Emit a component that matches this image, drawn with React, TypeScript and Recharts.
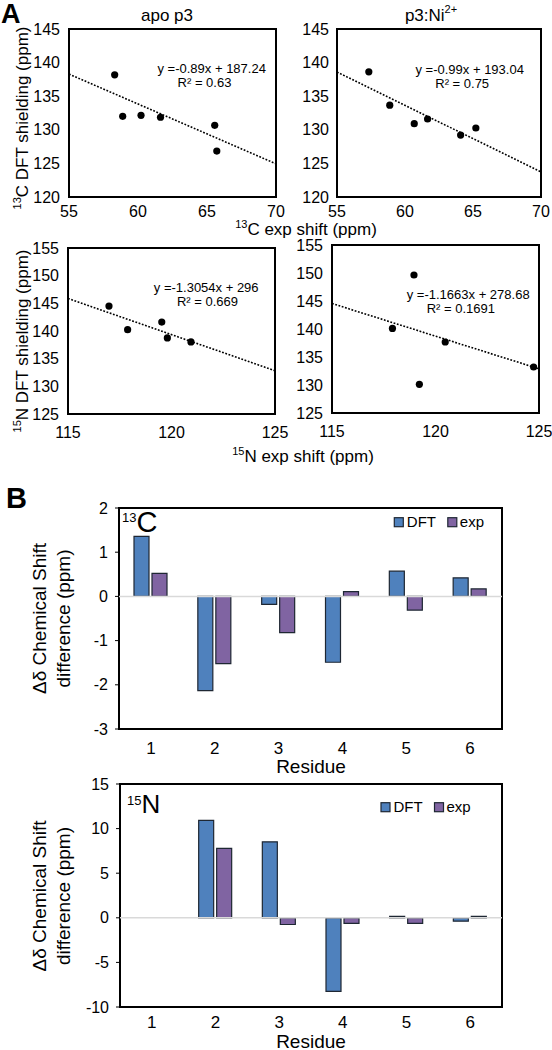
import React from 'react'
import {
  ScatterChart,
  Scatter,
  BarChart,
  Bar,
  XAxis,
  YAxis,
  ReferenceLine,
  ReferenceArea,
} from 'recharts'

const FONT = '"Liberation Sans", Arial, Helvetica, sans-serif'

// A: exp shift (x) vs DFT shielding (y)
const apoCExp = [58.31, 58.89, 60.22, 61.63, 65.56, 65.71]
const apoCDft = [138.18, 132.0, 132.16, 131.87, 130.67, 126.84]
const niCExp = [57.34, 58.88, 60.68, 61.66, 64.09, 65.21]
const niCDft = [138.63, 133.66, 130.91, 131.61, 129.22, 130.27]
const apoNExp = [116.98, 117.88, 119.53, 119.8, 120.94]
const apoNDft = [144.5, 140.24, 141.62, 138.74, 138.02]
const niNExp = [117.92, 118.96, 119.22, 120.47, 124.74]
const niNDft = [140.1, 149.64, 130.12, 137.68, 133.21]

// trendlines (apoC, niC, apoN, niN)
const fitSlopes = [-0.89, -0.99, -1.3054, -1.1663]
const fitIntercepts = [187.24, 193.04, 296, 278.68]
const fitEquations = ['y =-0.89x + 187.24', 'y =-0.99x + 193.04', 'y =-1.3054x + 296', 'y =-1.1663x + 278.68']
const fitR2 = ['R² = 0.63', 'R² = 0.75', 'R² = 0.669', 'R² = 0.1691']

const cShiftTicks = [55, 60, 65, 70]
const cShieldTicks = [120, 125, 130, 135, 140, 145]
const nShiftTicks = [115, 120, 125]
const nShieldTicks = [125, 130, 135, 140, 145, 150, 155]

// B: chemical shift differences per residue
const residues = ['1', '2', '3', '4', '5', '6']
const cDft = [1.36, -2.13, -0.18, -1.49, 0.57, 0.42]
const cExp = [0.52, -1.52, -0.82, 0.11, -0.31, 0.17]
const nDft = [null, 10.93, 8.52, -8.25, 0.15, -0.38]
const nExp = [null, 7.78, -0.75, -0.62, -0.62, 0.15]
const cDiffTicks = [-3, -2, -1, 0, 1, 2]
const nDiffTicks = [-10, -5, 0, 5, 10, 15]

const DFT_COLOR = '#4F81BD'
const EXP_COLOR = '#8064A2'

type Box = { l: number; t: number; r: number; b: number }

const Dot = (p: any) => <circle cx={p.cx} cy={p.cy} r={3.6} fill="#000" />

function ScatterPanel({ box, xs, ys, xTicks, yTicks, fit, xMargin, yMargin }: any) {
  const padL = 60, padT = 10, padR = 20, padB = 40
  const data = xs.map((x: number, i: number) => ({ x, y: ys[i] }))
  const x0 = xTicks[0]
  const x1 = xTicks[xTicks.length - 1]
  const y0 = yTicks[0]
  const y1 = yTicks[yTicks.length - 1]
  const b = box as Box
  const tick = { fontSize: 16, fill: '#000', fontFamily: FONT }
  return (
    <div style={{ position: 'absolute', left: b.l - padL, top: b.t - padT }}>
      <ScatterChart
        width={b.r - b.l + padL + padR}
        height={b.b - b.t + padT + padB}
        margin={{ top: padT, right: padR, bottom: 0, left: 0 }}
      >
        <XAxis
          type="number"
          dataKey="x"
          domain={[x0, x1]}
          ticks={xTicks}
          interval={0}
          allowDataOverflow
          tickLine={false}
          axisLine={false}
          tickSize={0}
          tickMargin={xMargin}
          height={padB}
          tick={tick}
        />
        <YAxis
          type="number"
          dataKey="y"
          domain={[y0, y1]}
          ticks={yTicks}
          interval={0}
          allowDataOverflow
          tickLine={false}
          axisLine={false}
          tickSize={0}
          tickMargin={yMargin}
          width={padL}
          tick={tick}
        />
        <ReferenceLine
          segment={[
            { x: x0, y: fit.slope * x0 + fit.intercept },
            { x: x1, y: fit.slope * x1 + fit.intercept },
          ]}
          stroke="#000"
          strokeWidth={1.6}
          strokeDasharray="1.8 1.6"
          ifOverflow="visible"
        />
        <ReferenceArea
          x1={x0}
          x2={x1}
          y1={y0}
          y2={y1}
          fill="none"
          stroke="#000"
          strokeWidth={2}
          ifOverflow="visible"
        />
        <Scatter data={data} isAnimationActive={false} shape={Dot} />
      </ScatterChart>
    </div>
  )
}

function BarPanel({ box, dft, exp, yTicks, xMargin }: any) {
  const padL = 70, padT = 10, padR = 10, padB = 40
  const b = box as Box
  const data = residues.map((r, i) => ({ residue: r, dft: dft[i], exp: exp[i] }))
  const y0 = yTicks[0]
  const y1 = yTicks[yTicks.length - 1]
  return (
    <div style={{ position: 'absolute', left: b.l - padL, top: b.t - padT }}>
      <BarChart
        width={b.r - b.l + padL + padR}
        height={b.b - b.t + padT + padB}
        margin={{ top: padT, right: padR, bottom: 0, left: 0 }}
        barGap={3}
        data={data}
      >
        <XAxis
          dataKey="residue"
          interval={0}
          tickLine={false}
          axisLine={false}
          tickSize={0}
          tickMargin={xMargin}
          height={padB}
          tick={{ fontSize: 17, fill: '#000', fontFamily: FONT }}
        />
        <YAxis
          type="number"
          domain={[y0, y1]}
          ticks={yTicks}
          interval={0}
          allowDataOverflow
          axisLine={false}
          tickLine={{ stroke: '#000' }}
          tickSize={4}
          tickMargin={7}
          width={padL}
          tick={{ fontSize: 16, fill: '#000', fontFamily: FONT }}
        />
        <ReferenceLine y={0} stroke="#d9d9d9" strokeWidth={1.5} />
        <Bar dataKey="dft" fill={DFT_COLOR} stroke="#1e2733" strokeWidth={1.2} barSize={15} isAnimationActive={false} />
        <Bar dataKey="exp" fill={EXP_COLOR} stroke="#1e2733" strokeWidth={1.2} barSize={15} isAnimationActive={false} />
        <ReferenceArea y1={y0} y2={y1} fill="none" stroke="#000" strokeWidth={2} ifOverflow="visible" />
      </BarChart>
    </div>
  )
}

function LegendItems({ x, y }: { x: number; y: number }) {
  return (
    <g fontSize={15}>
      <rect x={x} y={y - 4.5} width={9} height={9} fill={DFT_COLOR} stroke="#1e2733" strokeWidth={1.2} />
      <text x={x + 12.5} y={y + 5}>DFT</text>
      <rect x={x + 53.5} y={y - 4.5} width={9} height={9} fill={EXP_COLOR} stroke="#1e2733" strokeWidth={1.2} />
      <text x={x + 65.5} y={y + 5}>exp</text>
    </g>
  )
}

function Overlay() {
  const eqPos = [
    [211.7, 68.5, 204.5, 82.5],
    [469.7, 69, 462.2, 83],
    [206.2, 287, 207.5, 301],
    [468.2, 294.5, 460.8, 308.5],
  ]
  return (
    <svg
      width={552}
      height={1050}
      style={{ position: 'absolute', left: 0, top: 0, pointerEvents: 'none' }}
      fontFamily={FONT}
      fill="#000"
    >
      <text x={1} y={23} fontSize={27} fontWeight="bold">A</text>
      <text x={6} y={508} fontSize={29} fontWeight="bold">B</text>

      <text x={167} y={21} fontSize={17} textAnchor="middle">apo p3</text>
      <text x={431} y={21} fontSize={17} textAnchor="middle">
        p3:Ni<tspan fontSize={11} dy={-8}>2+</tspan>
      </text>

      {eqPos.map((p, i) => (
        <g key={i} fontSize={13} textAnchor="middle">
          <text x={p[0]} y={p[1] + 4.5}>{fitEquations[i]}</text>
          <text x={p[2]} y={p[3] + 4.5}>{fitR2[i]}</text>
        </g>
      ))}

      <text x={28} y={118} fontSize={17} textAnchor="middle" transform="rotate(-90 28 118)">
        <tspan fontSize={11} dy={-7}>13</tspan>
        <tspan dy={7}>C DFT shielding (ppm)</tspan>
      </text>
      <text x={28} y={341} fontSize={17} textAnchor="middle" transform="rotate(-90 28 341)">
        <tspan fontSize={11} dy={-7}>15</tspan>
        <tspan dy={7}>N DFT shielding (ppm)</tspan>
      </text>
      <text x={306} y={235} fontSize={17} textAnchor="middle">
        <tspan fontSize={11} dy={-7}>13</tspan>
        <tspan dy={7}>C exp shift (ppm)</tspan>
      </text>
      <text x={303} y={462} fontSize={17} textAnchor="middle">
        <tspan fontSize={11} dy={-7}>15</tspan>
        <tspan dy={7}>N exp shift (ppm)</tspan>
      </text>

      {[618.5, 896].map((cy, i) => (
        <g key={i} fontSize={19} textAnchor="middle" transform={`rotate(-90 46 ${cy})`}>
          <text x={46} y={cy}>Δδ Chemical Shift</text>
          <text x={46} y={cy + 24}>difference (ppm)</text>
        </g>
      ))}

      <text x={311} y={773} fontSize={19} textAnchor="middle">Residue</text>
      <text x={311} y={1048} fontSize={19} textAnchor="middle">Residue</text>

      <text x={122} y={531.5}>
        <tspan fontSize={13} dy={-10}>13</tspan>
        <tspan fontSize={29} dy={10}>C</tspan>
      </text>
      <text x={127} y={813}>
        <tspan fontSize={13} dy={-8}>15</tspan>
        <tspan fontSize={26} dy={8}>N</tspan>
      </text>

      <LegendItems x={394.3} y={522.2} />
      <LegendItems x={381} y={807.2} />
    </svg>
  )
}

export default function App() {
  return (
    <div
      style={{
        position: 'absolute',
        left: 0,
        top: 0,
        width: 552,
        height: 1050,
        background: '#fff',
        fontFamily: FONT,
        overflow: 'hidden',
      }}
    >
      <ScatterPanel
        box={{ l: 69, t: 29, r: 276, b: 197 }}
        xs={apoCExp}
        ys={apoCDft}
        xTicks={cShiftTicks}
        yTicks={cShieldTicks}
        fit={{ slope: fitSlopes[0], intercept: fitIntercepts[0] }}
        xMargin={9}
        yMargin={9}
      />
      <ScatterPanel
        box={{ l: 337, t: 29, r: 541, b: 197 }}
        xs={niCExp}
        ys={niCDft}
        xTicks={cShiftTicks}
        yTicks={cShieldTicks}
        fit={{ slope: fitSlopes[1], intercept: fitIntercepts[1] }}
        xMargin={9}
        yMargin={8}
      />
      <ScatterPanel
        box={{ l: 68, t: 248, r: 275, b: 414 }}
        xs={apoNExp}
        ys={apoNDft}
        xTicks={nShiftTicks}
        yTicks={nShieldTicks}
        fit={{ slope: fitSlopes[2], intercept: fitIntercepts[2] }}
        xMargin={13}
        yMargin={9}
      />
      <ScatterPanel
        box={{ l: 332, t: 245, r: 539, b: 413 }}
        xs={niNExp}
        ys={niNDft}
        xTicks={nShiftTicks}
        yTicks={nShieldTicks}
        fit={{ slope: fitSlopes[3], intercept: fitIntercepts[3] }}
        xMargin={13}
        yMargin={9}
      />
      <BarPanel box={{ l: 119, t: 508, r: 502, b: 729 }} dft={cDft} exp={cExp} yTicks={cDiffTicks} xMargin={13} />
      <BarPanel box={{ l: 120, t: 784, r: 502, b: 1007 }} dft={nDft} exp={nExp} yTicks={nDiffTicks} xMargin={9} />
      <Overlay />
    </div>
  )
}
